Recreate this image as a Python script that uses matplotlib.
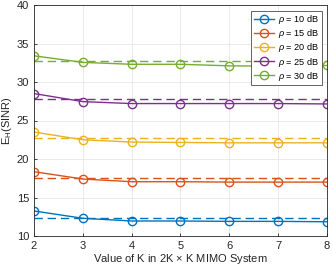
import numpy as np
import matplotlib
matplotlib.use('Agg')
import matplotlib.pyplot as plt

plt.rcParams['font.family'] = ['Liberation Sans', 'DejaVu Sans']
plt.rcParams['mathtext.fontset'] = 'custom'
plt.rcParams['mathtext.rm'] = 'Liberation Sans'
plt.rcParams['mathtext.it'] = 'Liberation Sans:italic'

K = [2, 3, 4, 5, 6, 7, 8]
labels = ['10', '15', '20', '25', '30']
sim = [
    [13.25, 12.3, 11.95, 11.95, 11.9, 11.9, 11.85],
    [18.35, 17.4, 17.05, 17.05, 17.0, 17.0, 17.0],
    [23.5, 22.5, 22.2, 22.15, 22.1, 22.1, 22.1],
    [28.5, 27.45, 27.2, 27.2, 27.2, 27.2, 27.15],
    [33.4, 32.55, 32.3, 32.3, 32.1, 32.05, 32.15],
]
bound = [12.35, 17.55, 22.75, 27.75, 32.75]
colors = ['#0072BD', '#D95319', '#EDB120', '#7E2F8E', '#77AC30']

fig = plt.figure(figsize=(3.32, 2.65), dpi=100)
ax = fig.add_axes([34/332, 1 - 236/265, 293/332, 231/265])

for i in range(len(labels)):
    ax.plot(K, sim[i], '-o', color=colors[i], lw=1.0, ms=6, mfc='none', mew=1.0,
            label=r'$\rho$ = %s dB' % labels[i])
for i in range(len(labels)):
    ax.plot([K[0], K[-1]], [bound[i], bound[i]], color=colors[i], lw=1.0,
            dashes=(6, 3.5))

ax.set_xlim(2, 8)
ax.set_ylim(10, 40)
ax.set_xticks(K)
ax.set_yticks(np.arange(10, 41, 5))
ax.grid(True, color='#e6e6e6', lw=0.6)
ax.set_axisbelow(True)
for s in ax.spines.values():
    s.set_color('#262626')
    s.set_linewidth(0.6)
ax.tick_params(labelsize=8, colors='#262626', direction='in', length=2, width=0.6)
ax.set_xlabel(r'Value of K in 2K $\times$ K MIMO System', fontsize=8, color='#262626', labelpad=1)
ax.set_ylabel(r'E$_\mathregular{H}$(SINR)', fontsize=8, color='#262626', labelpad=2)
leg = ax.legend(loc='upper right', fontsize=6.6, frameon=True, fancybox=False,
                edgecolor='#262626', framealpha=1, borderpad=0.3, labelspacing=0.12,
                handlelength=2.2, handletextpad=0.4, borderaxespad=0.6)
leg.get_frame().set_linewidth(0.5)

fig.savefig('out.png', dpi=100)
